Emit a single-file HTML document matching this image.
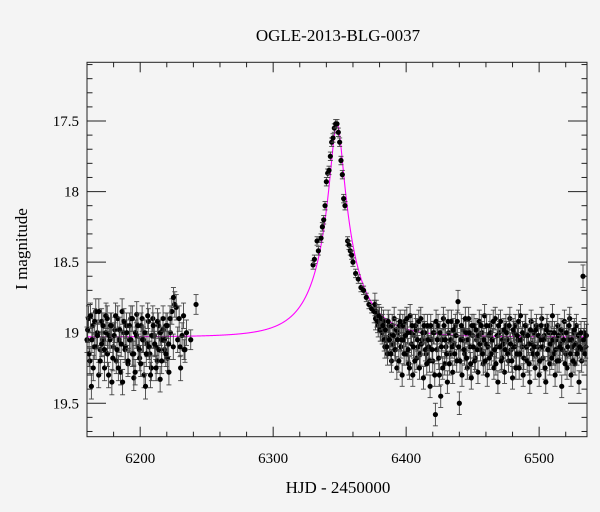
<!DOCTYPE html>
<html><head><meta charset="utf-8"><style>
body{margin:0;background:#f4f4f4;}
svg{display:block;}
text{font-family:"Liberation Serif","DejaVu Serif",serif;}
</style></head><body>
<svg id="chart" width="600" height="512" font-family="Liberation Serif, serif">
<rect width="600" height="512" fill="#f4f4f4"/>
<text x="338" y="41" text-anchor="middle" font-size="17" font-family="Liberation Serif, serif">OGLE-2013-BLG-0037</text>
<text x="338" y="493" text-anchor="middle" font-size="17" font-family="Liberation Serif, serif">HJD - 2450000</text>
<text transform="translate(27,249) rotate(-90)" text-anchor="middle" font-size="17" font-family="Liberation Serif, serif">I magnitude</text>
<g id="axes"></g><g id="model"></g><g id="pts"></g>
<rect x="87" y="62.3" width="500" height="374.4" fill="none" stroke="#222" stroke-width="1"/>
</svg>
<script>
const xTicks=[6200,6300,6400,6500];
const yTicks=[17.5,18,18.5,19,19.5];
const yTickLabels=["17.5","18","18.5","19","19.5"];
const earlyMags=[19.05,18.9,19.2,19.38,18.95,19.1,18.85,19.0,19.3,19.12,18.92,19.05,19.25,18.88,19.15,19.02,18.95,19.35,19.1,18.98,19.2,18.9,19.05,19.28,18.85,19.0,19.12,18.95,19.22,19.05,18.9,19.15,19.32,19.0,18.87,19.1,19.18,18.95,19.05,19.3,19.38,19.08,18.92,19.15,19.25,18.9,19.02,19.1,19.2,18.95,19.33,19.05,18.98,19.12,18.95,19.18,19.28,19.0,18.85,19.1,18.8,18.82,19.05,18.9,19.25,19.02,18.88,19.12,19.0];
const earlyMags2=[18.98,19.15,18.88,19.05,19.25,18.92,19.1,19.02,18.85,19.2,19.08,18.95,19.12,19.0,18.9,19.3,19.05,18.95,19.18,19.02,18.88,19.12,19.25,18.98,19.08,19.35,18.92,19.1,19.0,19.2,18.95,19.05,18.9,19.15,19.28,19.02,18.95,19.12,19.22,18.9,19.05,19.0,19.15,18.88,19.1,19.3,19.02,18.95,19.08,19.25,18.92,19.12,19.0,19.2,18.9,19.05,19.15,18.95,19.08,18.9];
const earlyStart=6160;
const sparseTimes=[6225,6230,6233,6238,6242];
const sparseMags=[18.75,19.1,19.12,19.05,18.8];
const peakTimes=[6330,6331,6333,6334,6336,6337,6338,6339,6340,6341,6342,6343,6344,6345,6346,6347,6348,6349,6350,6351,6352,6353,6354,6356,6357,6358,6359,6360,6362,6364,6366,6368,6370,6372,6374];
const peakMags=[18.52,18.48,18.35,18.42,18.33,18.25,18.2,18.1,17.93,17.87,17.85,17.75,17.65,17.62,17.55,17.52,17.52,17.58,17.65,17.78,17.88,18.05,18.1,18.35,18.38,18.42,18.45,18.5,18.58,18.62,18.68,18.7,18.75,18.8,18.83];
const lateStart=6376;
const lateMags=[18.85,18.9,18.88,18.95,18.9,18.98,19.0,18.92,19.1,19.05,19.15,18.95,19.02,19.2,19.08,18.9,19.12,19.25,19.0,18.95,
19.1,19.3,19.05,18.92,19.15,19.0,19.22,18.88,19.08,19.3,19.02,18.95,19.18,19.1,19.25,18.9,19.05,19.32,19.0,19.15,
18.95,19.1,19.38,19.05,19.2,19.0,19.58,19.12,18.95,19.3,19.45,19.05,18.9,19.22,19.1,19.35,19.0,19.15,18.92,19.28,
19.08,18.95,19.2,18.78,19.5,19.05,19.3,18.98,19.15,19.0,19.25,18.9,19.1,19.32,19.02,18.95,19.18,19.05,19.28,18.92,
19.12,19.0,19.22,18.88,19.08,19.3,19.02,18.95,19.15,19.05,19.25,18.9,19.1,19.35,19.0,18.92,19.18,19.08,19.28,18.95,
19.05,19.2,18.9,19.12,19.32,19.0,18.95,19.15,19.05,19.25,18.88,19.1,19.3,19.02,18.95,19.2,19.08,19.35,18.92,19.12,
19.0,19.25,18.95,19.1,19.3,19.05,18.9,19.18,19.02,19.35,18.95,19.12,19.22,19.0,18.88,19.15,19.3,19.05,18.95,19.2,
19.08,19.38,19.0,18.92,19.15,19.25,19.05,18.9,19.3,19.1,19.0,19.22,18.95,19.12,19.35,19.05,19.2,18.6,19.0,19.1];
const lateMags2=[18.8,18.85,18.92,18.88,18.98,18.9,18.95,19.05,18.98,19.1,18.92,19.05,19.15,18.95,19.02,19.12,18.98,19.05,19.2,18.92,
19.05,18.95,19.15,19.02,18.9,19.12,19.25,19.0,18.95,19.1,19.2,18.98,19.05,18.92,19.15,19.08,19.0,18.95,19.12,19.22,
19.05,19.2,18.95,19.12,19.0,19.3,18.92,19.05,19.18,19.0,19.1,19.25,18.95,19.05,19.15,18.92,19.22,19.05,19.1,18.98,
19.15,19.02,18.92,19.1,19.2,18.95,19.05,19.12,18.9,19.18,19.05,19.0,19.22,18.95,19.1,19.2,18.98,19.12,19.02,19.08,
18.95,19.15,19.05,19.2,18.95,19.1,19.18,19.0,19.05,18.92,19.12,19.22,19.02,18.95,19.1,19.2,19.05,18.98,19.12,19.0,
19.15,18.95,19.08,19.2,18.98,19.1,19.25,19.02,18.92,19.15,19.05,19.0,19.18,18.95,19.1,19.02,19.22,18.98,19.08,19.15,
19.1,18.98,19.15,19.02,19.2,18.95,19.1,19.05,19.25,18.98,19.12,19.0,19.08,19.18,19.05,19.0,19.12,19.2,19.02,19.1,
18.98,19.12,19.05,19.22,19.0,19.1,18.95,19.15,19.05,19.2,18.98,19.08,19.15,19.02,19.1,19.0,19.12,19.05,19.15,19.02];
const modelT0=6348, modelTE=32, modelU0=0.143, modelFs=0.5, modelBase=19.03;

const X0=87,X1=587,Y0=62.3,Y1=436.7,xmin=6160,xmax=6536,ymin=17.084,ymax=19.737;
const sx=t=>X0+(t-xmin)/(xmax-xmin)*(X1-X0);
const sy=m=>Y0+(m-ymin)/(ymax-ymin)*(Y1-Y0);
const NS="http://www.w3.org/2000/svg";
function mk(tag,attrs,parent){const e=document.createElementNS(NS,tag);for(const k in attrs)e.setAttribute(k,attrs[k]);parent.appendChild(e);return e;}
const axes=document.getElementById('axes');
for(let t=6160;t<=6536;t+=20){const major=t%100===0;const L=major?10:5;
 const a=mk('line',{x1:sx(t),x2:sx(t),y1:Y1,y2:Y1-L,stroke:'#222'},axes);
 
 
 const b=mk('line',{x1:sx(t),x2:sx(t),y1:Y0,y2:Y0+L,stroke:'#222'},axes);
 
 }
xTicks.forEach(t=>{const e=mk('text',{x:sx(t),y:463,'text-anchor':'middle','font-size':'15','font-family':'Liberation Serif, serif'},axes);e.textContent=String(t);
 
 });
for(let k=171;k<=197;k++){const m=k/10;const major=k%5===0;const L=major?19:10;
 const a=mk('line',{x1:X0,x2:X0+L*(major?1:0.55),y1:sy(m),y2:sy(m),stroke:'#222'},axes);
 
 
 const b=mk('line',{x1:X1,x2:X1-L*(major?1:0.55),y1:sy(m),y2:sy(m),stroke:'#222'},axes);
 
 }
yTicks.forEach((m,i)=>{const e=mk('text',{x:79,y:sy(m)+5,'text-anchor':'end','font-size':'15','font-family':'Liberation Serif, serif'},axes);e.textContent=yTickLabels[i];
 
 });
let d='';for(let t=xmin;t<=xmax;t+=0.25){const u=Math.sqrt(modelU0*modelU0+Math.pow((t-modelT0)/modelTE,2));const A=(u*u+2)/(u*Math.sqrt(u*u+4));const m=modelBase-2.5*Math.log10(modelFs*A+1-modelFs);d+=(d?'L':'M')+sx(t).toFixed(2)+','+sy(m).toFixed(2);}
const ml=mk('path',{d:d,fill:'none',stroke:'#ff00ff','stroke-width':'1.1'},document.getElementById('model'));


const pts=document.getElementById('pts');
function pt(t,m,err){const g=mk('g',{},pts);
 
 
 const x=sx(t);mk('line',{x1:x,x2:x,y1:sy(m-err),y2:sy(m+err),stroke:'#444','stroke-width':'0.9'},g);
 mk('line',{x1:x-2.5,x2:x+2.5,y1:sy(m-err),y2:sy(m-err),stroke:'#444','stroke-width':'0.9'},g);
 mk('line',{x1:x-2.5,x2:x+2.5,y1:sy(m+err),y2:sy(m+err),stroke:'#444','stroke-width':'0.9'},g);
 mk('circle',{cx:x,cy:sy(m),r:2.6,fill:'#000'},g);}
earlyMags.forEach((m,i)=>pt(earlyStart+i*1.1,m,0.09));
earlyMags2.forEach((m,i)=>pt(earlyStart+0.5+i*1.05,m,0.09));
sparseTimes.forEach((t,i)=>pt(t,sparseMags[i],0.07));
peakTimes.forEach((t,i)=>pt(t,peakMags[i],0.03));
lateMags.forEach((m,i)=>pt(lateStart+i,m,0.08));
lateMags2.forEach((m,i)=>pt(lateStart+0.5+i,m,0.08));
</script>
</body></html>
